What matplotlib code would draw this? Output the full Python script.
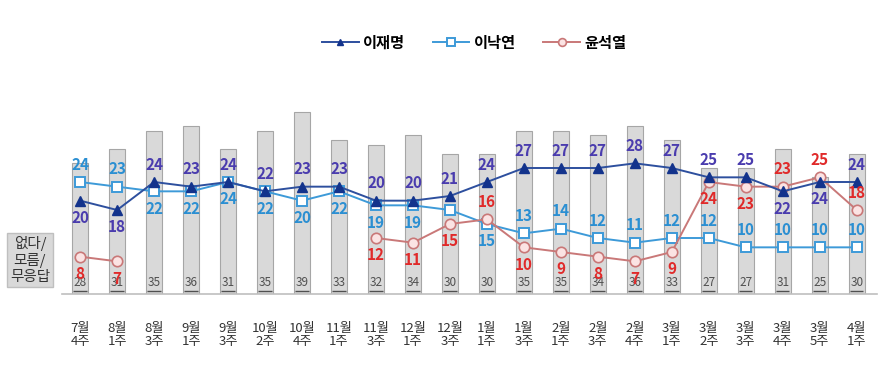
import numpy as np
import matplotlib.pyplot as plt

plt.rcParams['font.family'] = ['Noto Sans CJK KR', 'DejaVu Sans']

# 조사 시점
weeks = ['7월\n4주', '8월\n1주', '8월\n3주', '9월\n1주', '9월\n3주', '10월\n2주', '10월\n4주',
         '11월\n1주', '11월\n3주', '12월\n1주', '12월\n3주', '1월\n1주', '1월\n3주', '2월\n1주',
         '2월\n3주', '2월\n4주', '3월\n1주', '3월\n2주', '3월\n3주', '3월\n4주', '3월\n5주', '4월\n1주']

# 없다/모름/무응답 (bars)
none_resp = [28, 31, 35, 36, 31, 35, 39, 33, 32, 34, 30, 30, 35, 35, 34, 36, 33, 27, 27, 31, 25, 30]

lee_jm = [20, 18, 24, 23, 24, 22, 23, 23, 20, 20, 21, 24, 27, 27, 27, 28, 27, 25, 25, 22, 24, 24]
lee_ny = [24, 23, 22, 22, 24, 22, 20, 22, 19, 19, 18, 15, 13, 14, 12, 11, 12, 12, 10, 10, 10, 10]
yoon = [8, 7, None, None, None, None, None, None, 12, 11, 15, 16, 10, 9, 8, 7, 9, 24, 23, 23, 25, 18]

# label above (1) / below (-1) / hidden (0)
lee_jm_pos = [-1, -1, 1, 1, 1, 1, 1, 1, 1, 1, 1, 1, 1, 1, 1, 1, 1, 1, 1, -1, -1, 1]
lee_ny_pos = [1, 1, -1, -1, -1, -1, -1, -1, -1, -1, 0, -1, 1, 1, 1, 1, 1, 1, 1, 1, 1, 1]
yoon_pos = [-1, -1, 0, 0, 0, 0, 0, 0, -1, -1, -1, 1, -1, -1, -1, -1, -1, -1, -1, 1, 1, 1]

x = np.arange(len(weeks))
yoon_arr = np.array([np.nan if v is None else v for v in yoon], dtype=float)

fig = plt.figure(figsize=(8.95, 3.7), dpi=100)
ax = fig.add_axes([0.0693, 0.2054, 0.9107, 0.7946])

ax.bar(x, none_resp, width=0.43, color='#d9d9d9', edgecolor='#a6a6a6', linewidth=0.8, zorder=1)
for i, v in enumerate(none_resp):
    ax.text(i, 2.5, str(v), ha='center', va='center', fontsize=8.5, style='italic',
            color='#505050', zorder=2)
ax.hlines([0.55] * len(x), x - 0.18, x + 0.18, color='#505050', linewidth=1.0, zorder=2)

c_jm, c_ny, c_yn = '#2d4f9e', '#3d9ad8', '#c97878'
ax.plot(x, lee_jm, color=c_jm, lw=1.4, marker='^', ms=6.5, mfc='#13338c', mec='#13338c',
        label='이재명', zorder=4)
ax.plot(x, lee_ny, color=c_ny, lw=1.4, marker='s', ms=7.5, mfc='white', mec=c_ny, mew=1.4,
        label='이낙연', zorder=3)
ax.plot(x, yoon_arr, color=c_yn, lw=1.4, marker='o', ms=7.5, mfc='#fbe3e3', mec=c_yn, mew=1.2,
        label='윤석열', zorder=3)


def put_labels(vals, pos, color):
    for i, (v, p) in enumerate(zip(vals, pos)):
        if v is None or p == 0:
            continue
        ax.annotate(str(v), (i, v), xytext=(0, 12.5 * p), textcoords='offset points',
                    ha='center', va='center', fontsize=11, fontweight='bold', color=color,
                    zorder=6)


put_labels(lee_jm, lee_jm_pos, '#4a3cae')
put_labels(lee_ny, lee_ny_pos, '#2b8fd2')
put_labels(yoon, yoon_pos, '#e02a2a')

ax.set_xlim(-0.49, 21.55)
ax.set_ylim(0, 63)
ax.set_yticks([])
ax.set_xticks(x)
ax.set_xticklabels(weeks, fontsize=9.5, color='#333333', linespacing=1.0)
ax.tick_params(axis='x', length=0, pad=20)
for s in ['top', 'right', 'left']:
    ax.spines[s].set_visible(False)
ax.spines['bottom'].set_color('#bfbfbf')
ax.spines['bottom'].set_linewidth(1.2)

fig.text(0.0335, 0.297, '없다/\n모름/\n무응답', ha='center', va='center', fontsize=10.5,
         color='#333333', linespacing=1.15,
         bbox=dict(boxstyle='square,pad=0.2', fc='#d9d9d9', ec='#bfbfbf'))

fig.legend(loc='center', bbox_to_anchor=(0.53, 0.885), ncol=3, frameon=False,
           handlelength=2.4, columnspacing=1.8, handletextpad=0.3, markerscale=0.75,
           prop={'size': 11, 'weight': 'bold'})

fig.savefig('out.png', dpi=100)
